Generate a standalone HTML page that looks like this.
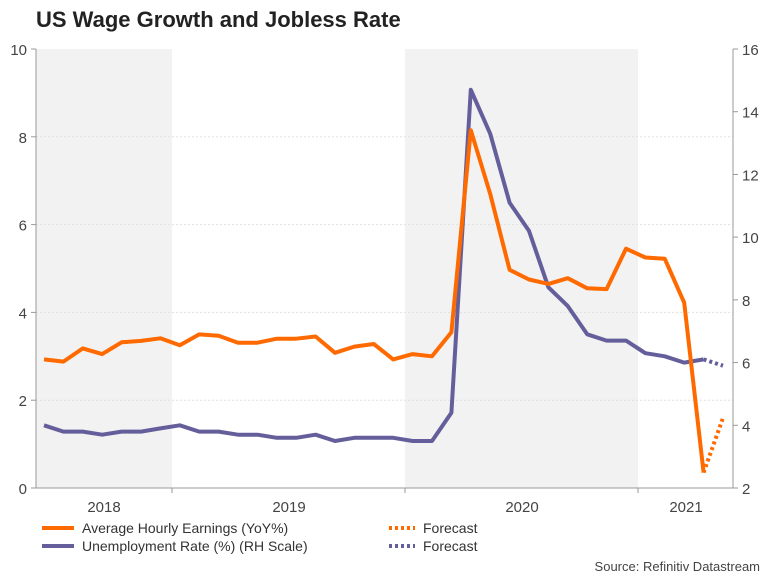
<!DOCTYPE html>
<html><head><meta charset="utf-8"><style>
body{margin:0;background:#fff;font-family:"Liberation Sans",Arial,sans-serif}
#wrap{position:relative;width:768px;height:576px;overflow:hidden}
</style></head><body>
<div id="wrap">
<svg id="c" width="768" height="576" xmlns="http://www.w3.org/2000/svg" font-family="Liberation Sans, Arial, sans-serif"></svg>
</div>
<script>
const earnings=[2.93,2.88,3.18,3.05,3.32,3.35,3.41,3.25,3.50,3.47,3.31,3.31,3.40,3.40,3.45,3.08,3.22,3.28,2.93,3.05,3.00,3.55,8.15,6.70,4.97,4.75,4.65,4.78,4.55,4.53,5.45,5.25,5.22,4.22,0.35];
const earningsForecast=[0.35,1.6];
const unemp=[4.0,3.8,3.8,3.7,3.8,3.8,3.9,4.0,3.8,3.8,3.7,3.7,3.6,3.6,3.7,3.5,3.6,3.6,3.6,3.5,3.5,4.4,14.7,13.3,11.1,10.2,8.4,7.8,6.9,6.7,6.7,6.3,6.2,6.0,6.1];
const unempForecast=[6.1,5.9];
const leftTicks=[0,2,4,6,8,10];
const rightTicks=[2,4,6,8,10,12,14,16];
const years=["2018","2019","2020","2021"];

const L=36,R=733,T=49,B=488;
const x=i=>44+19.4*i;
const yL=v=>B-v*(B-T)/10;
const yR=v=>B-(v-2)*(B-T)/14;
const svg=document.getElementById('c');
const NS='http://www.w3.org/2000/svg';
function mk(t,a,txt){const e=document.createElementNS(NS,t);for(const k in a)e.setAttribute(k,a[k]);if(txt!=null)e.textContent=txt;svg.appendChild(e);return e;}

let e=mk('text',{x:36,y:27,'font-size':22,'font-weight':'bold',fill:'#222'},'US Wage Growth and Jobless Rate');

// bands
e=mk('rect',{x:L,y:T,width:172-L,height:B-T,fill:'#f2f2f2'});

e=mk('rect',{x:405,y:T,width:233,height:B-T,fill:'#f2f2f2'});

// grid + left ticks
leftTicks.forEach(v=>{
 if(v>0&&v<10){e=mk('line',{x1:L,x2:R,y1:yL(v),y2:yL(v),stroke:'#e0e0e0','stroke-dasharray':'2,2'});
 }
 e=mk('line',{x1:L-5,x2:L,y1:yL(v),y2:yL(v),stroke:'#999'});
 
 e=mk('text',{x:L-9,y:yL(v)+6,'text-anchor':'end','font-size':15,fill:'#444'},v);
 
});
rightTicks.forEach(v=>{
 e=mk('line',{x1:R,x2:R+5,y1:yR(v),y2:yR(v),stroke:'#999'});
 
 e=mk('text',{x:R+9,y:yR(v)+6,'font-size':15,fill:'#444'},v);
 
});
e=mk('line',{x1:L,x2:L,y1:T,y2:B,stroke:'#999'});
e=mk('line',{x1:R,x2:R,y1:T,y2:B,stroke:'#999'});
e=mk('line',{x1:L,x2:R,y1:B,y2:B,stroke:'#999'});
[172,405,638].forEach(t=>{e=mk('line',{x1:t,x2:t,y1:B,y2:B+5,stroke:'#999'});});
const yc=[104,289,522,686];
years.forEach((s,i)=>{e=mk('text',{x:yc[i],y:512,'text-anchor':'middle','font-size':15,fill:'#444'},s);
 });
function line(arr,off,f,col,dash,name){
 const p=arr.map((v,i)=>x(i+off).toFixed(1)+','+f(v).toFixed(1)).join(' ');
 const a={points:p,fill:'none',stroke:col,'stroke-width':4,'stroke-linejoin':'round'};
 if(dash)a['stroke-dasharray']='3,3';
 const el=mk('polyline',a);
}
line(unemp,0,yR,'#645f9b',false,'unemployment-line');
line(unempForecast,unemp.length-1,yR,'#645f9b',true,'unemployment-forecast-line');
line(earnings,0,yL,'#ff6a00',false,'earnings-line');
line(earningsForecast,earnings.length-1,yL,'#ff6a00',true,'earnings-forecast-line');
// legend
function leg(y,col,dash,x0,w,label,name){
 const a={x1:x0,x2:x0+w,y1:y,y2:y,stroke:col,'stroke-width':4};if(dash)a['stroke-dasharray']='3,3';
 let l=mk('line',a);
 let t=mk('text',{x:x0+w+8,y:y+5,'font-size':14,fill:'#333'},label);
}
leg(528,'#ff6a00',false,42,32,'Average Hourly Earnings (YoY%)','legend-earnings');
leg(546,'#645f9b',false,42,32,'Unemployment Rate (%) (RH Scale)','legend-unemployment');
leg(528,'#ff6a00',true,389,26,'Forecast','legend-earnings-forecast');
leg(546,'#645f9b',true,389,26,'Forecast','legend-unemployment-forecast');
e=mk('text',{x:760,y:571,'text-anchor':'end','font-size':13,fill:'#444'},'Source: Refinitiv Datastream');

</script>
</body></html>
